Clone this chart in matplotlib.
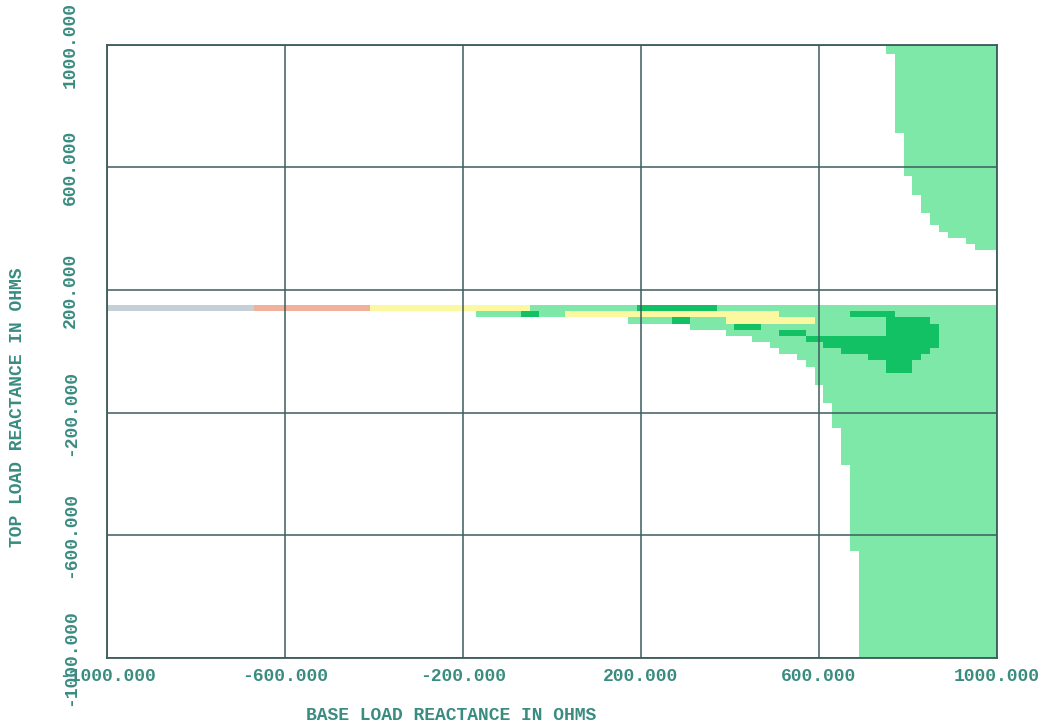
import numpy as np
import matplotlib
matplotlib.use("Agg")
import matplotlib.pyplot as plt
from matplotlib.colors import ListedColormap

# cell grid: 20 ohm steps, centres from -1000 to 1000
step = 20
centres = np.arange(-1000, 1001, step)
edges = np.arange(-1010, 1011, step)

# light green area, rows given as (top row, bottom row, left boundary)
upper_rows = [(1000, 980, 750), (960, 720, 770), (700, 580, 790), (560, 520, 810),
              (500, 460, 830), (440, 420, 850), (400, 400, 870), (380, 380, 890),
              (360, 360, 930), (340, 340, 950)]
lower_rows = [(140, 140, -50), (120, 120, -170), (100, 100, 170), (80, 80, 310),
              (60, 60, 390), (40, 40, 450), (20, 20, 490), (0, 0, 510),
              (-20, -20, 550), (-40, -40, 570), (-60, -100, 590), (-120, -160, 610),
              (-180, -240, 630), (-260, -360, 650), (-380, -640, 670), (-660, -1000, 690)]

# other regions as (row, x from, x to)
gray_runs = [(140, -1010, -670)]
salmon_runs = [(140, -670, -410)]
yellow_runs = [(140, -410, -50), (120, 30, 510), (100, 390, 590)]
dark_runs = [(140, 190, 370), (120, -70, -30), (120, 670, 770), (100, 270, 310),
             (100, 750, 850), (80, 410, 470), (80, 750, 870), (60, 510, 570),
             (60, 750, 870), (40, 570, 870), (20, 610, 870), (0, 650, 850),
             (-20, 710, 830), (-40, 750, 810), (-60, 750, 810)]

grid = np.zeros((len(centres), len(centres)), dtype=int)
X, Y = np.meshgrid(centres, centres)

for top, bot, left in upper_rows + lower_rows:
    grid[(Y <= top) & (Y >= bot) & (X > left)] = 1

def paint(runs, code):
    for y, x0, x1 in runs:
        grid[(Y == y) & (X > x0) & (X < x1)] = code

paint(dark_runs, 2)
paint(yellow_runs, 3)
paint(salmon_runs, 4)
paint(gray_runs, 5)

cmap = ListedColormap(["white", "#7ee8a8", "#12c163", "#fbf8a0", "#f1b09a", "#c5cfd6"])

fig = plt.figure(figsize=(10.41, 7.26), dpi=100)
ax = fig.add_axes([0.1028, 0.0937, 0.8549, 0.8450])
ax.pcolormesh(edges, edges, grid, cmap=cmap, vmin=-0.5, vmax=5.5, zorder=1)

ticks = [-1000, -600, -200, 200, 600, 1000]
ax.set_xlim(-1000, 1000)
ax.set_ylim(-1000, 1000)
ax.set_xticks(ticks)
ax.set_yticks(ticks)
ax.set_xticklabels(["%.3f" % t for t in ticks])
ax.set_yticklabels(["%.3f" % t for t in ticks])
ax.grid(True, color="#3e5c5c", linewidth=1.1, zorder=3)
ax.set_axisbelow(False)
for s in ax.spines.values():
    s.set_color("#3e5c5c")
    s.set_linewidth(1.3)

txt = "#3a8c80"
font = dict(family="Liberation Mono", weight="bold", size=13, color=txt)
ax.tick_params(length=0)
ax.tick_params(axis="x", pad=7)
ax.tick_params(axis="y", pad=20)
for lab in ax.get_xticklabels():
    lab.set(**font)
for lab in ax.get_yticklabels():
    lab.set(**font)
    lab.set_rotation(90)
    lab.set_va("center")

fig.text(451 / 1041, 1 - 716 / 726, "BASE LOAD REACTANCE IN OHMS", ha="center", va="center", **font)
fig.text(18 / 1041, 1 - 407 / 726, "TOP LOAD REACTANCE IN OHMS", ha="center", va="center",
         rotation=90, **font)

fig.savefig("out.png", dpi=100)
